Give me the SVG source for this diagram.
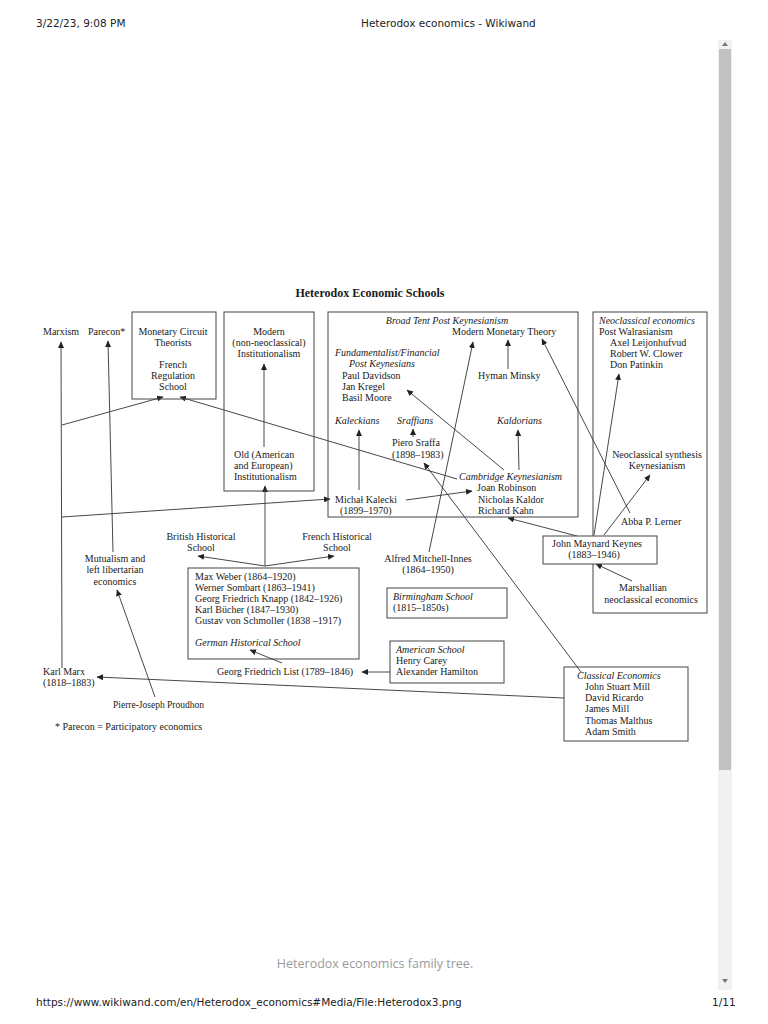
<svg xmlns="http://www.w3.org/2000/svg" width="768" height="1024" viewBox="0 0 768 1024">
<defs>
<marker id="ah" markerUnits="userSpaceOnUse" markerWidth="7" markerHeight="6" refX="6" refY="3" orient="auto">
<path d="M0,0 L6.5,3 L0,6 z" fill="#222"/>
</marker>
<style>
.t{font-family:"Liberation Serif","Times New Roman",serif;font-size:10px;fill:#1a1a1a}
.i{font-style:italic}
.m{text-anchor:middle}
.b{fill:none;stroke:#444;stroke-width:1}
.c{stroke:#333;stroke-width:0.9;fill:none;marker-end:url(#ah)}
.ui{font-family:"DejaVu Sans","Noto Sans",sans-serif;font-size:10.5px;fill:#222}
</style>
</defs>
<rect width="768" height="1024" fill="#fff"/>
<!-- page chrome -->
<text class="ui" x="36" y="27">3/22/23, 9:08 PM</text>
<text class="ui" x="361" y="27">Heterodox economics - Wikiwand</text>
<rect x="718" y="40" width="14" height="950" fill="#f1f1f1"/>
<rect x="719" y="49" width="12" height="721" fill="#c1c1c1"/>
<path d="M722,46 L725,42 L728,46 z" fill="#777"/>
<path d="M722,979 L725,983 L728,979 z" fill="#777"/>
<text x="375" y="968" text-anchor="middle" style="font-family:'Open Sans','Noto Sans',sans-serif;font-size:12.5px;fill:#9a9a9a">Heterodox economics family tree.</text>
<text class="ui" x="36" y="1006">https://www.wikiwand.com/en/Heterodox_economics#Media/File:Heterodox3.png</text>
<text class="ui" x="712" y="1006">1/11</text>

<text class="t m" x="370" y="297" style="font-weight:bold;font-size:12px">Heterodox Economic Schools</text>

<g id="connectors">
<path class="c" d="M62,668 L61,342"/>
<path class="c" d="M62,425 L163,397"/>
<path class="c" d="M62,517 L330,499"/>
<path class="c" d="M113,552 L108,341"/>
<path class="c" d="M155,697 L117,590"/>
<path class="c" d="M457,479 L180,397"/>
<path class="c" d="M264,447 L264,364"/>
<path class="c" d="M265,566 L265,486"/>
<path class="c" d="M265,566 L198,556"/>
<path class="c" d="M265,566 L334,556"/>
<path class="c" d="M282,663 L250,650"/>
<path class="c" d="M390,672 L362,672"/>
<path class="c" d="M564,698 L97,677"/>
<path class="c" d="M581,672 L424,463"/>
<path class="c" d="M429,552 L473,342"/>
<path class="c" d="M508,369 L508,340"/>
<path class="c" d="M504,470 L407,390"/>
<path class="c" d="M359,490 L359,430"/>
<path class="c" d="M413,437 L413,429"/>
<path class="c" d="M519,470 L518,430"/>
<path class="c" d="M406,500 L472,491"/>
<path class="c" d="M577,536 L508,518"/>
<path class="c" d="M594,535 L619,374"/>
<path class="c" d="M604,535 L650,475"/>
<path class="c" d="M630,513 L542,339"/>
<path class="c" d="M632,581 L596,564"/>
</g>

<g id="marxism"><text class="t" x="43" y="335">Marxism</text></g>
<g id="parecon"><text class="t" x="88" y="335">Parecon*</text></g>

<g id="monetary-circuit">
<rect class="b" x="132" y="312" width="84" height="87"/>
<text class="t m" x="173" y="335">Monetary Circuit</text>
<text class="t m" x="173" y="346">Theorists</text>
<text class="t m" x="173" y="368">French</text>
<text class="t m" x="173" y="379">Regulation</text>
<text class="t m" x="173" y="390">School</text>
</g>

<g id="institutionalism">
<rect class="b" x="224" y="312" width="90" height="179"/>
<text class="t m" x="269" y="335">Modern</text>
<text class="t m" x="269" y="346">(non-neoclassical)</text>
<text class="t m" x="269" y="357">Institutionalism</text>
<text class="t" x="234" y="458">Old (American</text>
<text class="t" x="234" y="469">and European)</text>
<text class="t" x="234" y="480">Institutionalism</text>
</g>

<g id="post-keynesianism">
<rect class="b" x="328" y="312" width="250" height="205"/>
<text class="t i m" x="447" y="324">Broad Tent Post Keynesianism</text>
<text class="t" x="452" y="335">Modern Monetary Theory</text>
<text class="t i" x="335" y="356">Fundamentalist/Financial</text>
<text class="t i" x="349" y="367">Post Keynesians</text>
<text class="t" x="342" y="379">Paul Davidson</text>
<text class="t" x="342" y="390">Jan Kregel</text>
<text class="t" x="342" y="401">Basil Moore</text>
<text class="t" x="478" y="379">Hyman Minsky</text>
<text class="t i" x="335" y="424">Kaleckians</text>
<text class="t i" x="397" y="424">Sraffians</text>
<text class="t i" x="497" y="424">Kaldorians</text>
<text class="t" x="392" y="446">Piero Sraffa</text>
<text class="t" x="392" y="458">(1898–1983)</text>
<text class="t i" x="459" y="480">Cambridge Keynesianism</text>
<text class="t" x="477" y="491">Joan Robinson</text>
<text class="t" x="478" y="503">Nicholas Kaldor</text>
<text class="t" x="478" y="514">Richard Kahn</text>
<text class="t" x="335" y="503">Michał Kalecki</text>
<text class="t" x="340" y="514">(1899–1970)</text>
</g>

<g id="neoclassical">
<rect class="b" x="593" y="312" width="114" height="301"/>
<text class="t i" x="599" y="324">Neoclassical  economics</text>
<text class="t" x="599" y="335">Post Walrasianism</text>
<text class="t" x="610" y="346">Axel Leijonhufvud</text>
<text class="t" x="610" y="357">Robert W. Clower</text>
<text class="t" x="610" y="368">Don Patinkin</text>
<text class="t m" x="657" y="458">Neoclassical synthesis</text>
<text class="t m" x="657" y="469">Keynesianism</text>
<text class="t" x="621" y="525">Abba P. Lerner</text>
<text class="t m" x="643" y="591">Marshallian</text>
<text class="t m" x="651" y="603">neoclassical economics</text>
</g>

<g id="keynes">
<rect x="543" y="536" width="114" height="28" fill="#fff" stroke="#444" stroke-width="1"/>
<text class="t m" x="597" y="547">John Maynard Keynes</text>
<text class="t m" x="594" y="558">(1883–1946)</text>
</g>

<g id="mitchell-innes">
<text class="t m" x="428" y="562">Alfred Mitchell-Innes</text>
<text class="t m" x="428" y="573">(1864–1950)</text>
</g>

<g id="birmingham">
<rect class="b" x="387" y="588" width="120" height="30"/>
<text class="t i" x="393" y="600">Birmingham School</text>
<text class="t" x="393" y="611">(1815–1850s)</text>
</g>

<g id="american-school">
<rect class="b" x="390" y="641" width="114" height="42"/>
<text class="t i" x="396" y="653">American School</text>
<text class="t" x="396" y="664">Henry Carey</text>
<text class="t" x="396" y="675">Alexander Hamilton</text>
</g>

<g id="classical">
<rect class="b" x="564" y="667" width="124" height="74"/>
<text class="t i" x="577" y="679">Classical Economics</text>
<text class="t" x="585" y="690">John Stuart Mill</text>
<text class="t" x="585" y="701">David Ricardo</text>
<text class="t" x="585" y="712">James Mill</text>
<text class="t" x="585" y="724">Thomas Malthus</text>
<text class="t" x="585" y="735">Adam Smith</text>
</g>

<g id="german-historical">
<rect class="b" x="188" y="568" width="171" height="91"/>
<text class="t" x="195" y="580">Max Weber (1864–1920)</text>
<text class="t" x="195" y="591">Werner Sombart (1863–1941)</text>
<text class="t" x="195" y="602">Georg Friedrich Knapp (1842–1926)</text>
<text class="t" x="195" y="613">Karl Bücher (1847–1930)</text>
<text class="t" x="195" y="624">Gustav von Schmoller  (1838 –1917)</text>
<text class="t i" x="195" y="646">German Historical School</text>
</g>

<g id="british-historical">
<text class="t m" x="201" y="540">British Historical</text>
<text class="t m" x="201" y="551">School</text>
</g>
<g id="french-historical">
<text class="t m" x="337" y="540">French Historical</text>
<text class="t m" x="337" y="551">School</text>
</g>
<g id="mutualism">
<text class="t m" x="115" y="562">Mutualism and</text>
<text class="t m" x="115" y="573">left libertarian</text>
<text class="t m" x="115" y="585">economics</text>
</g>
<g id="list"><text class="t" x="217" y="675">Georg Friedrich List (1789–1846)</text></g>
<g id="karl-marx">
<text class="t" x="43" y="675">Karl Marx</text>
<text class="t" x="43" y="686">(1818–1883)</text>
</g>
<g id="proudhon"><text class="t" x="113" y="708" style="font-size:9.5px">Pierre-Joseph Proudhon</text></g>
<text class="t" x="55" y="730">* Parecon = Participatory economics</text>
</svg>
